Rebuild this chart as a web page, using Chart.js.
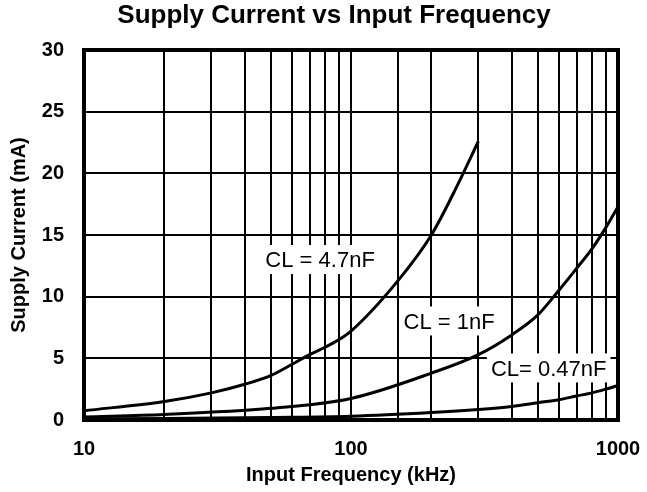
<!DOCTYPE html>
<html>
<head>
<meta charset="utf-8">
<style>
    html, body { margin: 0; padding: 0; background: #fff; }
    #wrap { width: 647px; height: 492px; }
</style>
</head>
<body>
<div id="wrap"><canvas id="currentChart"></canvas></div>
<script src="https://cdn.jsdelivr.net/npm/chart.js"></script>
<script>
    // values (kHz, mA)
    const freq47n = [10, 20, 30, 40, 50, 60, 70, 80, 90, 100, 150, 200, 250, 300];
    const curr47n = [0.75, 1.5, 2.2, 2.9, 3.6, 4.5, 5.3, 5.9, 6.5, 7.2, 11.3, 15, 19, 22.6];

    const freq1n = [10, 20, 50, 100, 200, 300, 400, 500, 600, 700, 800, 900, 1000];
    const curr1n = [0.25, 0.45, 0.95, 1.75, 3.8, 5.3, 6.9, 8.5, 10.5, 12.3, 13.9, 15.6, 17.3];

    const freq047n = [10, 20, 50, 100, 200, 300, 400, 500, 600, 700, 800, 900, 1000];
    const curr047n = [0.08, 0.12, 0.2, 0.3, 0.6, 0.85, 1.1, 1.4, 1.65, 1.95, 2.2, 2.5, 2.8];

    const decadeTicks = [10, 100, 1000];
    const curveNames = ['CL = 4.7nF', 'CL = 1nF', 'CL= 0.47nF'];
    const chartTitle = 'Supply Current vs Input Frequency';

    const FONT = "'Liberation Sans', Arial, sans-serif";

    function toPoints(xs, ys) {
        return xs.map((x, i) => ({x: x, y: ys[i]}));
    }

    // title, curve labels (white box behind) and the heavy frame
    const extras = {
        id: 'extras',
        afterDatasetsDraw(chart) {
            const ctx = chart.ctx;
            const xs = chart.scales.x;
            const ys = chart.scales.y;
            const spots = [[76.6, 12.97], [233, 7.99], [550, 4.18]];
            ctx.save();
            ctx.font = "22px " + FONT;
            ctx.textAlign = 'center';
            ctx.textBaseline = 'middle';
            spots.forEach((s, i) => {
                const px = xs.getPixelForValue(s[0]);
                const py = ys.getPixelForValue(s[1]);
                const w = ctx.measureText(curveNames[i]).width + 8;
                ctx.fillStyle = '#fff';
                ctx.fillRect(px - w / 2, py - 15, w, 29);
                ctx.fillStyle = '#000';
                ctx.fillText(curveNames[i], px, py + 1);
            });
            ctx.restore();
        },
        afterDraw(chart) {
            const a = chart.chartArea;
            const ctx = chart.ctx;
            ctx.save();
            ctx.strokeStyle = '#000';
            ctx.lineWidth = 4;
            ctx.strokeRect(a.left, a.top, a.right - a.left, a.bottom - a.top);
            ctx.fillStyle = '#000';
            ctx.font = "bold 26px " + FONT;
            ctx.textAlign = 'center';
            ctx.textBaseline = 'middle';
            ctx.fillText(chartTitle, 334, 16);
            ctx.restore();
        }
    };

    const lineStyle = {
        borderColor: '#000',
        backgroundColor: '#000',
        borderWidth: 3,
        pointRadius: 0,
        fill: false,
        cubicInterpolationMode: 'monotone'
    };

    new Chart(document.getElementById('currentChart'), {
        type: 'line',
        data: {
            datasets: [
                Object.assign({label: curveNames[0], data: toPoints(freq47n, curr47n)}, lineStyle),
                Object.assign({label: curveNames[1], data: toPoints(freq1n, curr1n)}, lineStyle),
                Object.assign({label: curveNames[2], data: toPoints(freq047n, curr047n)}, lineStyle)
            ]
        },
        options: {
            responsive: true,
            maintainAspectRatio: false,
            animation: false,
            layout: {padding: {left: 0, right: 29, top: 50, bottom: 0}},
            plugins: {
                legend: {display: false},
                tooltip: {enabled: false},
                title: {display: false}
            },
            scales: {
                x: {
                    type: 'logarithmic',
                    min: 10,
                    max: 1000,
                    grid: {color: '#000', lineWidth: 2, drawTicks: false},
                    border: {display: false},
                    ticks: {
                        autoSkip: false,
                        maxRotation: 0,
                        color: '#000',
                        padding: 17,
                        font: {family: FONT, size: 20, weight: 'bold'},
                        callback: v => decadeTicks.includes(v) ? String(v) : ''
                    },
                    title: {
                        display: true,
                        text: 'Input Frequency (kHz)',
                        color: '#000',
                        font: {family: FONT, size: 20, weight: 'bold'},
                        padding: {top: 4, bottom: 5}
                    },
                    afterFit: s => {
                        s.height = 72;
                        s.paddingLeft = 0;
                        s.paddingRight = 0;
                    }
                },
                y: {
                    min: 0,
                    max: 30,
                    grid: {color: '#000', lineWidth: 2, drawTicks: false},
                    border: {display: false},
                    ticks: {
                        stepSize: 5,
                        color: '#000',
                        padding: 20,
                        font: {family: FONT, size: 20, weight: 'bold'}
                    },
                    title: {
                        display: true,
                        text: 'Supply Current (mA)',
                        color: '#000',
                        font: {family: FONT, size: 20, weight: 'bold'},
                        padding: {top: 7, bottom: 0}
                    },
                    afterFit: s => {
                        s.width = 84;
                        s.paddingTop = 0;
                        s.paddingBottom = 0;
                    }
                }
            }
        },
        plugins: [extras]
    });
</script>
</body>
</html>
